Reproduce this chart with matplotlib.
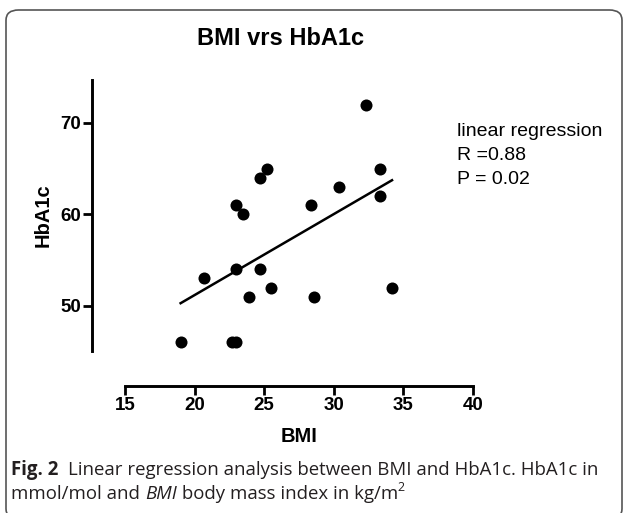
import numpy as np
import matplotlib
matplotlib.use('Agg')
import matplotlib.pyplot as plt
from matplotlib.patches import FancyBboxPatch

# Data
bmi = [19.0, 20.7, 22.7, 23.0, 23.0, 23.0, 23.5, 23.9, 24.7, 24.7,
       25.2, 25.5, 28.4, 28.6, 30.4, 32.3, 33.3, 33.3, 34.2]
hba1c = [46, 53, 46, 46, 54, 61, 60, 51, 64, 54,
         65, 52, 61, 51, 63, 72, 65, 62, 52]
x_ticks = [15, 20, 25, 30, 35, 40]
y_ticks = [50, 60, 70]
stats_lines = ['linear regression', 'R =0.88', 'P = 0.02']

W, H = 626, 513
fig = plt.figure(figsize=(W / 100, H / 100), dpi=100)

# rounded frame around the whole figure
frame = FancyBboxPatch((6 / W, -6 / H), (622 - 6) / W, (H - 10 + 6) / H,
                       boxstyle='round,pad=0,rounding_size=0.02',
                       transform=fig.transFigure, fill=False,
                       edgecolor='#555555', linewidth=1.2)
fig.patches.append(frame)

# axes placed so that the prism style offset spines line up
ax = fig.add_axes([92.3 / W, (H - 385.7) / H, (472.7 - 92.3) / W, (385.7 - 80) / H])
ax.set_xlim(12.65, 40)
ax.set_ylim(41.27, 74.7)
ax.patch.set_visible(False)

ax.scatter(bmi, hba1c, s=75, color='black', zorder=3, linewidths=0)

# least squares line over the data range
slope, intercept = np.polyfit(bmi, hba1c, 1)
fx = np.array([min(bmi), max(bmi)])
ax.plot(fx, slope * fx + intercept, color='black', lw=1.8)

for side in ['top', 'right']:
    ax.spines[side].set_visible(False)
ax.spines['left'].set_bounds(45.1, 74.7)
ax.spines['bottom'].set_bounds(15, 40)
for side in ['left', 'bottom']:
    ax.spines[side].set_linewidth(2.1)

ax.set_xticks(x_ticks)
ax.set_yticks(y_ticks)
ax.tick_params(width=2.0, length=6.5, labelsize=13.5, pad=1.5)
for lab in ax.get_xticklabels() + ax.get_yticklabels():
    lab.set_fontfamily('Liberation Sans')
    lab.set_fontweight('bold')

ax.set_xlabel('BMI', fontfamily='Liberation Sans', fontweight='bold', fontsize=14.5, va='center')
ax.set_ylabel('HbA1c', fontfamily='Liberation Sans', fontweight='bold', fontsize=14.5, va='center')
ax.xaxis.set_label_coords((299.5 - 92.3) / 380.4, -(436 - 385.7) / 305.7)
ax.yaxis.set_label_coords(-(92.3 - 43) / 380.4, (385.7 - 215) / 305.7)

fig.text(281 / W, 1 - 45 / H, 'BMI vrs HbA1c', ha='center', va='baseline',
         fontfamily='Liberation Sans', fontweight='bold', fontsize=17)

for i, line in enumerate(stats_lines):
    fig.text(457 / W, 1 - (136 + i * 24) / H, line, ha='left', va='baseline',
             fontfamily='Liberation Sans', fontsize=14)

# caption, built from pieces so the bold / italic parts sit inline
cap_kw = dict(fontfamily='Open Sans', fontsize=13.4, color='#231f20', va='baseline')
fig.canvas.draw()
renderer = fig.canvas.get_renderer()


def put(x, y, s, **kw):
    t = fig.text(x / W, 1 - y / H, s, **{**cap_kw, **kw})
    bb = t.get_window_extent(renderer)
    return x + bb.width


x = put(11, 475, 'Fig. 2', fontweight='bold')
put(x + 10, 475, 'Linear regression analysis between BMI and HbA1c. HbA1c in')
x = put(11, 499, 'mmol/mol and ')
x = put(x, 499, 'BMI', style='italic')
x = put(x, 499, ' body mass index in kg/m')
put(x, 491, '2', fontsize=9)

fig.savefig('out.png', dpi=100)
